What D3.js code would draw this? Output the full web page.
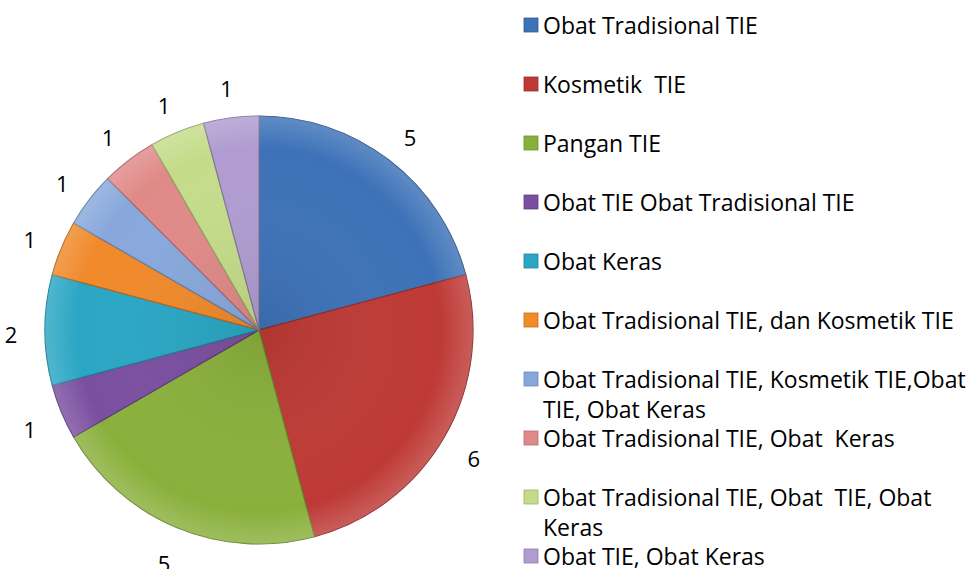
<!DOCTYPE html>
<html lang="en">
<meta charset="UTF-8">
<title>Pie chart</title>
<script src="https://d3js.org/d3.v7.min.js"></script>
<style>
  html, body { margin: 0; padding: 0; background: #fff; }
  text { font-family: "Open Sans", sans-serif; fill: #000; white-space: pre; }
</style>
<body>
<div id="my_dataviz"></div>
<script>
// categories and values
var categories = [
  "Obat Tradisional TIE",
  "Kosmetik  TIE",
  "Pangan TIE",
  "Obat TIE Obat Tradisional TIE",
  "Obat Keras",
  "Obat Tradisional TIE, dan Kosmetik TIE",
  "Obat Tradisional TIE, Kosmetik TIE,Obat TIE, Obat Keras",
  "Obat Tradisional TIE, Obat  Keras",
  "Obat Tradisional TIE, Obat  TIE, Obat Keras",
  "Obat TIE, Obat Keras"
];
var values = [5, 6, 5, 1, 2, 1, 1, 1, 1, 1];
var colors = ["#3d72b8", "#be3a36", "#8ab03c", "#7a4fa0", "#2aa6c4",
              "#f08a2a", "#88a8dc", "#e08a88", "#c4dc8a", "#b09cd0"];

var width = 973, height = 569;
var cx = 259, cy = 330, radius = 214, labelRadius = 248;

var svg = d3.select("#my_dataviz")
  .append("svg")
    .attr("width", width)
    .attr("height", height);

var data = categories.map(function (c, i) { return {name: c, value: values[i]}; });

var color = d3.scaleOrdinal()
  .domain(categories)
  .range(colors);

var pie = d3.pie()
  .sort(null)
  .value(function (d) { return d.value; });

var arc = d3.arc().innerRadius(0).outerRadius(radius);
var labelArc = d3.arc().innerRadius(labelRadius).outerRadius(labelRadius);

// shading gradient to mimic the bevel look
var defs = svg.append("defs");
var shade = defs.append("radialGradient")
  .attr("id", "shade")
  .attr("gradientUnits", "userSpaceOnUse")
  .attr("cx", 0).attr("cy", 0).attr("r", radius);
shade.append("stop").attr("offset", "0%").attr("stop-color", "#000").attr("stop-opacity", 0.08);
shade.append("stop").attr("offset", "85%").attr("stop-color", "#fff").attr("stop-opacity", 0);
shade.append("stop").attr("offset", "100%").attr("stop-color", "#fff").attr("stop-opacity", 0.18);

var g = svg.append("g")
  .attr("transform", "translate(" + cx + "," + cy + ")");

var arcs = pie(data);

g.selectAll("path.slice")
  .data(arcs)
  .enter()
  .append("path")
    .attr("class", "slice")
    .attr("d", arc)
    .style("fill", function (d) { return color(d.data.name); })
    .style("stroke", function (d) { return d3.color(color(d.data.name)).darker(0.8); })
    .style("stroke-width", 1.2);

g.selectAll("path.shade")
  .data(arcs)
  .enter()
  .append("path")
    .attr("class", "shade")
    .attr("d", arc)
    .style("fill", "url(#shade)")
    .style("pointer-events", "none");

// data labels
g.selectAll("text.lbl")
  .data(arcs)
  .enter()
  .append("text")
    .attr("class", "lbl")
    .attr("transform", function (d) {
      var c = labelArc.centroid(d);
      return "translate(" + c[0] + "," + (c[1] + 4) + ")";
    })
    .attr("text-anchor", "middle")
    .attr("dominant-baseline", "central")
    .style("font-size", "22px")
    .text(function (d) { return d.data.value; });

// legend
var legendX = 524, textX = 543, rowTop = 25, rowStep = 59, lineStep = 30, maxW = 425;

var legend = svg.append("g");

data.forEach(function (d, i) {
  var y = rowTop + rowStep * i;
  legend.append("rect")
    .attr("x", legendX)
    .attr("y", y - 7)
    .attr("width", 14)
    .attr("height", 14)
    .style("fill", color(d.name))
    .style("stroke", d3.color(color(d.name)).darker(0.6))
    .style("stroke-width", 0.8);

  var t = legend.append("text")
    .attr("x", textX)
    .attr("y", y)
    .attr("dominant-baseline", "central")
    .style("font-size", "23px");

  // greedy word wrap
  var words = d.name.split(" ");
  var line = [], lineNo = 0;
  var tspan = t.append("tspan").attr("x", textX).attr("y", y);
  words.forEach(function (w) {
    line.push(w);
    tspan.text(line.join(" "));
    if (tspan.node().getComputedTextLength() > maxW && line.length > 1) {
      line.pop();
      tspan.text(line.join(" "));
      line = [w];
      lineNo++;
      tspan = t.append("tspan").attr("x", textX).attr("y", y + lineStep * lineNo).text(w);
    }
  });
});
</script>
</body>
</html>
